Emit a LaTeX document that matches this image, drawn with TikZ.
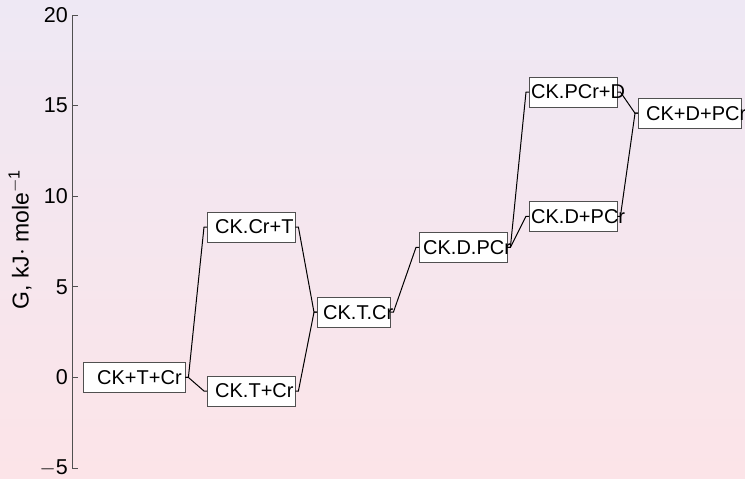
\documentclass[tikz,border=0pt]{standalone}
\usepackage{fontspec}
\setmainfont{Liberation Sans}
\usetikzlibrary{positioning}

\definecolor{bgtop}{RGB}{238,232,244}
\definecolor{bgbot}{RGB}{252,228,232}
\definecolor{axgray}{RGB}{80,80,80}

\begin{document}
\begin{tikzpicture}[x=1pt,y=18.12pt,
  lvl/.style={draw=axgray,fill=white,inner sep=0pt,minimum height=30.5pt,anchor=west,font=\fontsize{20}{20}\selectfont},
  link/.style={black,line width=1pt},
  tick/.style={axgray,line width=1pt},
  ticklab/.style={anchor=east,inner sep=0pt,font=\fontsize{21.5}{21.5}\selectfont}]

% background
\shade[top color=bgtop,bottom color=bgbot] (0,-5.55) rectangle (745,20.83);
\useasboundingbox (0,-5.55) rectangle (745,20.83);

% axis
\draw[tick] (72,-5) -- (72,20);
\foreach \g/\t in {-5/$-$5,0/0,5/5,10/10,15/15,20/20}{
  \draw[tick] (72,\g) -- (78,\g);
  \node[ticklab] at (68,\g) {\t};
}
\node[rotate=90,font=\fontsize{23}{23}\selectfont] (ylab) at (20,7.6) {G, kJ$\cdot$ mole\textsuperscript{$-$1}};

% levels
\node[lvl] (CKTCr) at (83,0) {\makebox[102pt][l]{\hspace*{14pt}CK+T+Cr}};
\node[lvl] (CKCrT) at (207,8.3) {\makebox[88pt][l]{\hspace*{8pt}CK.Cr+T}};
\node[lvl] (CKTpCr) at (207,-0.75) {\makebox[88pt][l]{\hspace*{8pt}CK.T+Cr}};
\node[lvl] (CKTdCr) at (317,3.6) {\makebox[73pt][l]{\hspace*{6pt}CK.T.Cr}};
\node[lvl] (CKDPCr) at (419,7.18) {\makebox[88pt][l]{\hspace*{4pt}CK.D.PCr}};
\node[lvl] (CKPCrD) at (529,15.75) {\makebox[88pt][l]{\hspace*{2pt}CK.PCr+D}};
\node[lvl] (CKDpPCr) at (529,8.89) {\makebox[88pt][l]{\hspace*{2pt}CK.D+PCr}};
\node[lvl] (CKDPCrf) at (638,14.58) {\makebox[103pt][l]{\hspace*{8pt}CK+D+PCr}};

% connectors
\draw[link] (CKTCr.east) -- ++(3,0) -- ([xshift=-3pt]CKCrT.west) -- (CKCrT.west);
\draw[link] (CKTCr.east) -- ++(3,0) -- ([xshift=-3pt]CKTpCr.west) -- (CKTpCr.west);
\draw[link] (CKCrT.east) -- ++(3,0) -- ([xshift=-3pt]CKTdCr.west) -- (CKTdCr.west);
\draw[link] (CKTpCr.east) -- ++(3,0) -- ([xshift=-3pt]CKTdCr.west) -- (CKTdCr.west);
\draw[link] (CKTdCr.east) -- ++(3,0) -- ([xshift=-3pt]CKDPCr.west) -- (CKDPCr.west);
\draw[link] (CKDPCr.east) -- ++(3,0) -- ([xshift=-3pt]CKPCrD.west) -- (CKPCrD.west);
\draw[link] (CKDPCr.east) -- ++(3,0) -- ([xshift=-3pt]CKDpPCr.west) -- (CKDpPCr.west);
\draw[link] (CKPCrD.east) -- ++(3,0) -- ([xshift=-3pt]CKDPCrf.west) -- (CKDPCrf.west);
\draw[link] (CKDpPCr.east) -- ++(3,0) -- ([xshift=-3pt]CKDPCrf.west) -- (CKDPCrf.west);
\end{tikzpicture}
\end{document}
